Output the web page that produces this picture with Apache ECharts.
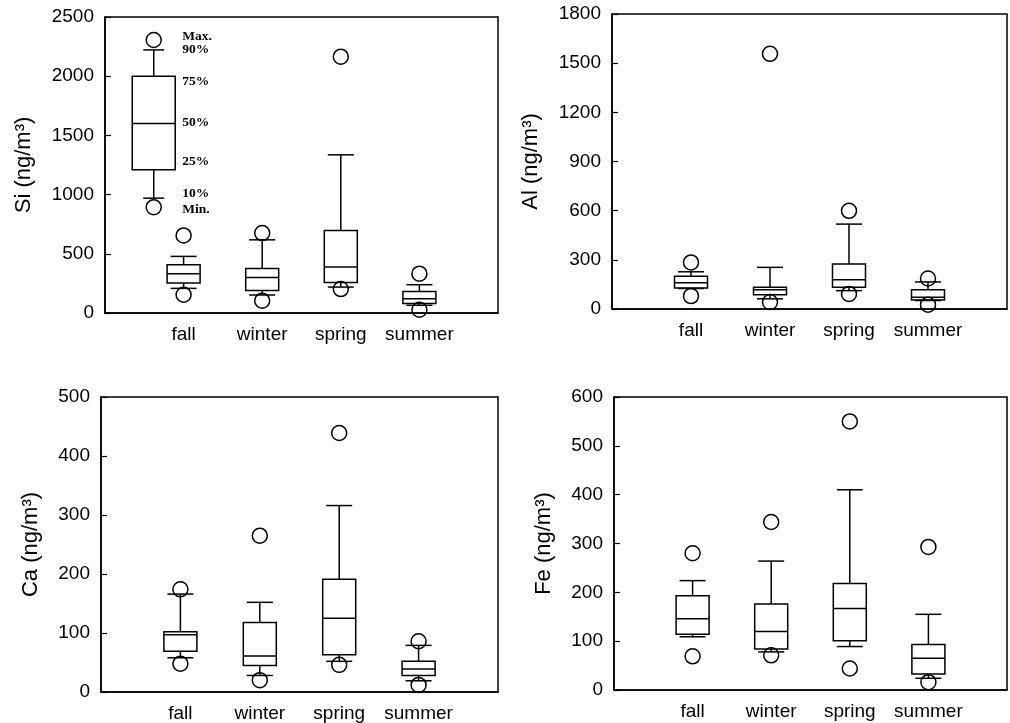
<!DOCTYPE html>
<html>
<head>
<meta charset="utf-8">
<script src="https://cdn.jsdelivr.net/npm/echarts@6/dist/echarts.min.js"></script>
<style>
  html, body { margin: 0; padding: 0; background: #fff; }
  #chart { width: 1010px; height: 723px; }
</style>
</head>
<body>
<div id="chart"></div>
<script>
const seasons = ['fall', 'winter', 'spring', 'summer'];

// each row: min, 10%, 25%, median, 75%, 90%, max  (ng/m3)
const siStats = [
  [154, 208, 253, 332, 408, 478, 655],
  [104, 152, 191, 300, 376, 618, 675],
  [202, 219, 258, 388, 697, 1336, 2165],
  [28, 65, 80, 120, 182, 239, 332]
];
const alStats = [
  [79, 125, 128, 160, 200, 227, 284],
  [42, 62, 87, 118, 133, 254, 1557],
  [92, 112, 133, 179, 275, 518, 599],
  [26, 52, 55, 72, 118, 165, 186]
];
const caStats = [
  [48, 58, 69, 97, 102, 166, 174],
  [20, 28, 45, 61, 118, 152, 265],
  [46, 52, 63, 125, 191, 316, 439],
  [12, 19, 28, 39, 52, 79, 86]
];
const feStats = [
  [69, 109, 114, 146, 193, 224, 280],
  [71, 78, 84, 120, 176, 264, 344],
  [44, 89, 101, 167, 218, 410, 550],
  [16, 24, 33, 65, 93, 155, 293]
];

// explanatory key box drawn in the Si panel
const keyStats = [894, 970, 1210, 1600, 2000, 2222, 2306];
const keyLabels = ['Min.', '10%', '25%', '50%', '75%', '90%', 'Max.'];

const panels = [
  { name: 'Si (ng/m³)', stats: siStats, max: 2500, interval: 500, grid: { left: 105, top: 17, width: 393, height: 296 }, gap: 70 },
  { name: 'Al (ng/m³)', stats: alStats, max: 1800, interval: 300, grid: { left: 612, top: 14, width: 397, height: 295 }, gap: 70 },
  { name: 'Ca (ng/m³)', stats: caStats, max: 500, interval: 100, grid: { left: 101, top: 397, width: 397, height: 295 }, gap: 59 },
  { name: 'Fe (ng/m³)', stats: feStats, max: 600, interval: 100, grid: { left: 614, top: 397, width: 397, height: 293 }, gap: 59 }
];

const lineStyle = { stroke: '#000', lineWidth: 1.5, fill: null };

function makeRenderer(boxHalf, capHalf, labels) {
  const labelShift = [2, -5, -8, -1, 5, 0, -3];
  return function (params, api) {
    const x = api.value(0);
    const pt = (k) => api.coord([x, api.value(k)]);
    const [cx, yMin] = pt(1);
    const y10 = pt(2)[1], y25 = pt(3)[1], y50 = pt(4)[1];
    const y75 = pt(5)[1], y90 = pt(6)[1], yMax = pt(7)[1];
    const line = (x1, y1, x2, y2) => ({ type: 'line', shape: { x1, y1, x2, y2 }, style: lineStyle });
    const children = [
      line(cx, y75, cx, y90),
      line(cx, y10, cx, y25),
      line(cx - capHalf, y90, cx + capHalf, y90),
      line(cx - capHalf, y10, cx + capHalf, y10),
      { type: 'rect', shape: { x: cx - boxHalf, y: y75, width: boxHalf * 2, height: y25 - y75 }, style: lineStyle },
      line(cx - boxHalf, y50, cx + boxHalf, y50),
      { type: 'circle', shape: { cx, cy: yMin, r: 7.5 }, style: lineStyle },
      { type: 'circle', shape: { cx, cy: yMax, r: 7.5 }, style: lineStyle }
    ];
    if (labels) {
      const ys = [yMin, y10, y25, y50, y75, y90, yMax];
      labels.forEach((t, i) => {
        children.push({
          type: 'text',
          style: {
            text: t, x: cx + boxHalf + 7, y: ys[i] + labelShift[i],
            align: 'left', verticalAlign: 'middle',
            font: 'bold 13.5px "Liberation Serif"', fill: '#000'
          }
        });
      });
    }
    return { type: 'group', children };
  };
}

const grid = [], xAxis = [], yAxis = [], series = [];
panels.forEach((p, i) => {
  grid.push(Object.assign({ show: true, borderColor: '#000', borderWidth: 1.5 }, p.grid));
  xAxis.push({
    type: 'value', gridIndex: i, min: 0, max: 5, interval: 1,
    axisLine: { show: true, lineStyle: { color: '#000', width: 1.5 } },
    axisTick: { show: false },
    splitLine: { show: false },
    axisLabel: {
      margin: 12, color: '#000', fontSize: 19, fontFamily: 'Liberation Sans',
      formatter: (v) => seasons[v - 1] || ''
    }
  });
  yAxis.push({
    type: 'value', gridIndex: i, min: 0, max: p.max, interval: p.interval,
    name: p.name, nameLocation: 'middle', nameGap: p.gap,
    nameTextStyle: { color: '#000', fontSize: 22, fontFamily: 'Liberation Sans' },
    axisLine: { show: true, lineStyle: { color: '#000', width: 1.5 } },
    axisTick: { show: true, inside: true, length: 6, lineStyle: { color: '#000', width: 1.2 } },
    splitLine: { show: false },
    axisLabel: {
      margin: 11, color: '#000', fontSize: 19, fontFamily: 'Liberation Sans',
      formatter: (v) => String(v)
    }
  });
  series.push({
    type: 'custom', xAxisIndex: i, yAxisIndex: i, clip: false,
    renderItem: makeRenderer(16.5, 13, null),
    data: p.stats.map((s, k) => [k + 1].concat(s))
  });
});

series.push({
  type: 'custom', xAxisIndex: 0, yAxisIndex: 0, clip: false,
  renderItem: makeRenderer(21.5, 10.5, keyLabels),
  data: [[0.62].concat(keyStats)]
});

const chart = echarts.init(document.getElementById('chart'));
chart.setOption({
  animation: false,
  backgroundColor: '#fff',
  grid, xAxis, yAxis, series
});
window.addEventListener('resize', () => chart.resize());
</script>
</body>
</html>
